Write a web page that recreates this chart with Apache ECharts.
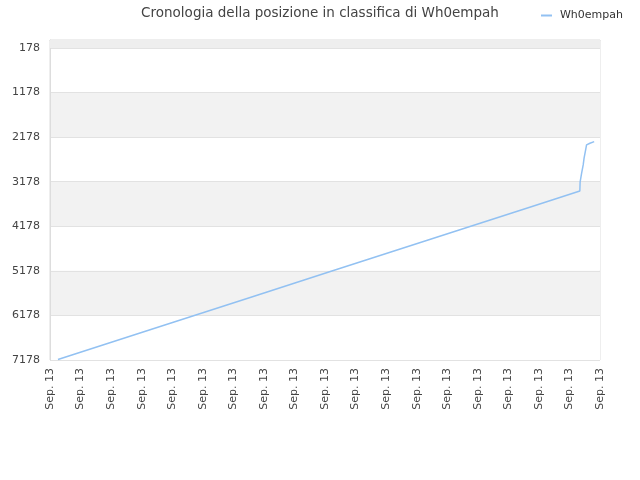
<!DOCTYPE html>
<html>
<head>
<meta charset="utf-8">
<script src="https://cdn.jsdelivr.net/npm/echarts@6/dist/echarts.min.js"></script>
<style>
  html, body { margin: 0; padding: 0; background: #fff; }
  #chart { width: 640px; height: 480px; }
</style>
</head>
<body>
<div id="chart"></div>
<script>
// tick labels along the bottom (one per tick)
const xLabels = ['Sep. 13', 'Sep. 13', 'Sep. 13', 'Sep. 13', 'Sep. 13', 'Sep. 13', 'Sep. 13',
  'Sep. 13', 'Sep. 13', 'Sep. 13', 'Sep. 13', 'Sep. 13', 'Sep. 13', 'Sep. 13', 'Sep. 13',
  'Sep. 13', 'Sep. 13', 'Sep. 13', 'Sep. 13']
// rank ticks
const yTicks = [178, 1178, 2178, 3178, 4178, 5178, 6178, 7178]
// position: x in tick steps, y = rank
const posX = [0.26, 3.3, 6.5, 9.2, 12.4, 15.7, 17.34, 17.35, 17.37, 17.40, 17.43, 17.45, 17.48, 17.53, 17.56, 17.67, 17.81]
const posY = [7167, 6495, 5786, 5189, 4481, 3750, 3386, 3180, 3150, 2983, 2940, 2803, 2646, 2467, 2354, 2316, 2280]

const chart = echarts.init(document.getElementById('chart'))
chart.setOption({
  animation: false,
  textStyle: { fontFamily: 'DejaVu Sans' },
  title: {
    text: 'Cronologia della posizione in classifica di Wh0empah',
    left: 'center',
    top: 1,
    textStyle: { fontSize: 13.5, fontWeight: 'normal', color: '#444' }
  },
  legend: {
    right: 12,
    top: 5,
    icon: 'rect',
    itemWidth: 11,
    itemHeight: 2,
    itemGap: 10,
    textStyle: { fontSize: 11, color: '#333', padding: [0, 0, 0, 3] },
    data: ['Wh0empah']
  },
  grid: {
    left: 50, right: 40, top: 40, bottom: 120,
    show: true, borderColor: '#ddd', borderWidth: 1
  },
  xAxis: {
    type: 'value',
    min: 0,
    max: xLabels.length - 1,
    interval: 1,
    axisLine: { lineStyle: { color: '#ddd' } },
    axisTick: { show: false },
    splitLine: { show: false },
    axisLabel: {
      rotate: 90,
      fontSize: 11,
      color: '#444',
      margin: 8,
      formatter: (v) => xLabels[Math.round(v)]
    }
  },
  yAxis: {
    type: 'value',
    inverse: true,
    min: 0,
    max: 7178,
    axisLine: { show: true, lineStyle: { color: '#ddd' } },
    axisTick: { show: false, customValues: yTicks },
    axisLabel: {
      customValues: yTicks, fontSize: 11, color: '#444', margin: 10,
      formatter: (v) => String(v)
    },
    splitLine: { show: true, lineStyle: { color: '#e2e2e2' } },
    splitArea: { show: true, areaStyle: { color: ['#ffffff', '#f2f2f2'] } }
  },
  series: [{
    name: 'Wh0empah',
    type: 'line',
    showSymbol: false,
    symbol: 'none',
    lineStyle: { color: '#92c1f2', width: 1.5 },
    itemStyle: { color: '#92c1f2' },
    markArea: {
      silent: true,
      itemStyle: { color: '#eeeeee' },
      data: [[{ yAxis: 0 }, { yAxis: yTicks[0] }]]
    },
    data: posX.map((x, i) => [x, posY[i]])
  }]
})
</script>
</body>
</html>
